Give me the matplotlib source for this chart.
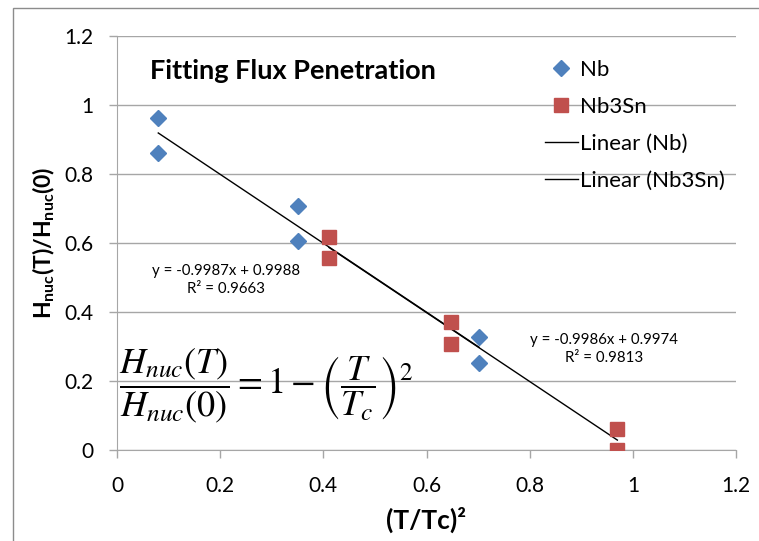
import numpy as np
import matplotlib.pyplot as plt
from matplotlib.patches import Rectangle

plt.rcParams['font.family'] = ['Lato', 'DejaVu Sans']
plt.rcParams['mathtext.fontset'] = 'custom'
plt.rcParams['mathtext.rm'] = 'Lato'
plt.rcParams['mathtext.bf'] = 'Lato:bold'
plt.rcParams['mathtext.it'] = 'Lato:italic'

# data
nb_x = [0.08, 0.08, 0.351, 0.351, 0.702, 0.702]
nb_y = [0.962, 0.861, 0.707, 0.606, 0.328, 0.252]
sn_x = [0.411, 0.411, 0.648, 0.648, 0.970, 0.970]
sn_y = [0.617, 0.557, 0.371, 0.307, 0.061, 0.0]

# trendline coefficients as printed on the chart
nb_fit = (-0.9987, 0.9988, 0.9663)
sn_fit = (-0.9986, 0.9974, 0.9813)

blue = '#4F81BD'
red = '#C0504D'
grey = '#A6A6A6'

fig = plt.figure(figsize=(7.59, 5.41), dpi=100)
fig.patches.append(Rectangle((13 / 759, -0.01), 1.0, 1 - 8 / 541 + 0.01,
                             transform=fig.transFigure, fill=False,
                             edgecolor='#8C8C8C', linewidth=1))
ax = fig.add_axes([117 / 759, 91 / 541, 619 / 759, 414 / 541])

ax.plot(nb_x, nb_y, linestyle='none', marker='D', ms=8.5, color=blue,
        label='Nb', zorder=3)
ax.plot(sn_x, sn_y, linestyle='none', marker='s', ms=10, color=red,
        label='Nb3Sn', zorder=3)

for xs, (m, b, r2), lab in [(nb_x, nb_fit, 'Linear (Nb)'),
                            (sn_x, sn_fit, 'Linear (Nb3Sn)')]:
    xx = np.array([min(xs), max(xs)])
    ax.plot(xx, m * xx + b, color='black', lw=1, label=lab, zorder=2)

ax.set_xlim(0, 1.2)
ax.set_ylim(0, 1.2)
ax.set_xticks(np.arange(0, 1.21, 0.2))
ax.set_yticks(np.arange(0, 1.21, 0.2))
ax.set_xticklabels(['0', '0.2', '0.4', '0.6', '0.8', '1', '1.2'])
ax.set_yticklabels(['0', '0.2', '0.4', '0.6', '0.8', '1', '1.2'])
ax.tick_params(axis='both', labelsize=15, color=grey, length=6, width=1)
ax.tick_params(axis='y', pad=11)
ax.tick_params(axis='x', pad=12.5)
ax.yaxis.grid(True, color=grey, lw=1)
ax.set_axisbelow(True)
for s in ['top', 'right']:
    ax.spines[s].set_visible(False)
for s in ['left', 'bottom']:
    ax.spines[s].set_color(grey)

ax.set_xlabel('(T/Tc)²', fontsize=19, fontweight='bold', labelpad=8)
ax.set_ylabel(r'$\mathbf{H_{nuc}(T)/H_{nuc}(0)}$', fontsize=16.5, labelpad=5)

ax.text(0.064, 1.10, 'Fitting Flux Penetration', fontsize=19.5,
        fontweight='bold', va='center')

ax.text(0.211, 0.493, 'y = %.4fx + %.4f\nR² = %.4f' % nb_fit,
        fontsize=10.8, ha='center', va='center', linespacing=1.35)
ax.text(0.944, 0.293, 'y = %.4fx + %.4f\nR² = %.4f' % sn_fit,
        fontsize=10.8, ha='center', va='center', linespacing=1.35)

ax.text(0.004, 0.185,
        r'$\dfrac{H_{nuc}\left(T\right)}{H_{nuc}\left(0\right)} = 1 - \left(\dfrac{T}{T_c}\right)^2$',
        fontsize=26, math_fontfamily='stix', va='center')

ax.legend(loc='upper left', bbox_to_anchor=(0.691, 0.943), frameon=False,
          fontsize=16, labelspacing=0.77, handlelength=1.5,
          handletextpad=0.1, borderaxespad=0, borderpad=0)

fig.savefig('out.png', dpi=100)
